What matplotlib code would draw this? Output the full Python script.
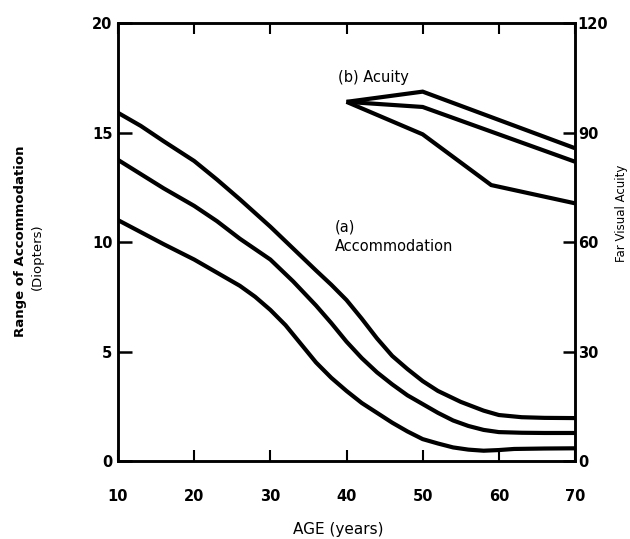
import matplotlib
matplotlib.use('Agg')
import matplotlib.pyplot as plt

# ── Data ─────────────────────────────────────────────────────
# (a) range of accommodation, dioptres, three curves
age_top    = [10, 13, 16, 20, 23, 26, 30, 33, 36, 38, 40, 42, 44, 46, 48, 50,
              52, 55, 58, 60, 63, 66, 70]
acc_top    = [15.9, 15.3, 14.6, 13.7, 12.85, 11.95, 10.7, 9.7, 8.7, 8.05, 7.35, 6.5,
              5.6, 4.8, 4.2, 3.65, 3.2, 2.7, 2.3, 2.1, 2.0, 1.97, 1.96]
age_mid    = [10, 13, 16, 20, 23, 26, 30, 33, 36, 38, 40, 42, 44, 46, 48, 50,
              52, 54, 56, 58, 60, 63, 66, 70]
acc_mid    = [13.75, 13.1, 12.45, 11.65, 10.95, 10.15, 9.2, 8.2, 7.1, 6.3, 5.45,
              4.7, 4.05, 3.5, 3.0, 2.6, 2.2, 1.85, 1.6, 1.42, 1.32, 1.29, 1.28, 1.28]
age_low    = [10, 13, 16, 20, 23, 26, 28, 30, 32, 34, 36, 38, 40, 42, 44, 46, 48,
              50, 52, 54, 56, 58, 60, 62, 66, 70]
acc_low    = [11.0, 10.45, 9.9, 9.2, 8.6, 8.0, 7.5, 6.9, 6.2, 5.35, 4.5, 3.8, 3.2,
              2.65, 2.2, 1.75, 1.35, 1.0, 0.8, 0.62, 0.52, 0.47, 0.5, 0.55, 0.57, 0.58]

# (b) far visual acuity, right axis
age_ac_top = [40, 50, 70]
ac_top     = [98.4, 101.2, 85.7]
age_ac_mid = [40, 50, 70]
ac_mid     = [98.4, 97.0, 82.0]
age_ac_low = [40, 50, 59, 70]
ac_low     = [98.4, 89.5, 75.6, 70.6]

x_ticks  = [10, 20, 30, 40, 50, 60, 70]
yl_ticks = [0, 5, 10, 15, 20]
yr_ticks = [0, 30, 60, 90, 120]

plt.rcParams['font.family'] = 'DejaVu Sans'

fig = plt.figure(figsize=(6.3, 5.39), dpi=100)
ax = fig.add_axes([0.1873, 0.1447, 0.7254, 0.8126])
ax2 = ax.twinx()

LW = 3.0
for a, v in [(age_top, acc_top), (age_mid, acc_mid), (age_low, acc_low)]:
    ax.plot(a, v, color='black', lw=LW, solid_capstyle='butt', solid_joinstyle='round')
for a, v in [(age_ac_top, ac_top), (age_ac_mid, ac_mid), (age_ac_low, ac_low)]:
    ax2.plot(a, v, color='black', lw=LW, solid_capstyle='butt', solid_joinstyle='miter')

ax.set_xlim(10, 70)
ax.set_ylim(0, 20)
ax2.set_ylim(0, 120)

ax.set_xticks(x_ticks)
ax.set_yticks(yl_ticks)
ax2.set_yticks(yr_ticks)

for s in list(ax.spines.values()) + list(ax2.spines.values()):
    s.set_linewidth(1.8)

ax.tick_params(axis='x', direction='in', top=True, length=8, width=1.5,
               pad=20, labelsize=10.5)
ax.tick_params(axis='y', direction='in', length=10, width=1.8,
               pad=4, labelsize=10.5)
ax2.tick_params(axis='y', direction='in', length=9, width=1.8,
                pad=2, labelsize=10.5)
for lab in ax.get_xticklabels() + ax.get_yticklabels() + ax2.get_yticklabels():
    lab.set_fontweight('bold')

# annotations
ax.text(38.9, 17.5, '(b) Acuity', fontsize=10.5, va='center', ha='left')
ax.text(38.5, 10.25, '(a)\nAccommodation', fontsize=10.5, va='center', ha='left',
        linespacing=1.35)

# axis titles
fig.text(0.537, 0.017, 'AGE (years)', fontsize=11, ha='center', va='center')
fig.text(0.033, 0.553, 'Range of Accommodation', fontsize=9.5, fontweight='bold',
         rotation=90, ha='center', va='center')
fig.text(0.060, 0.523, '(Diopters)', fontsize=9.5, rotation=90,
         ha='center', va='center')
fig.text(0.987, 0.605, 'Far Visual Acuity', fontsize=8.5, rotation=90,
         ha='center', va='center')

fig.savefig('out.png', dpi=100)
